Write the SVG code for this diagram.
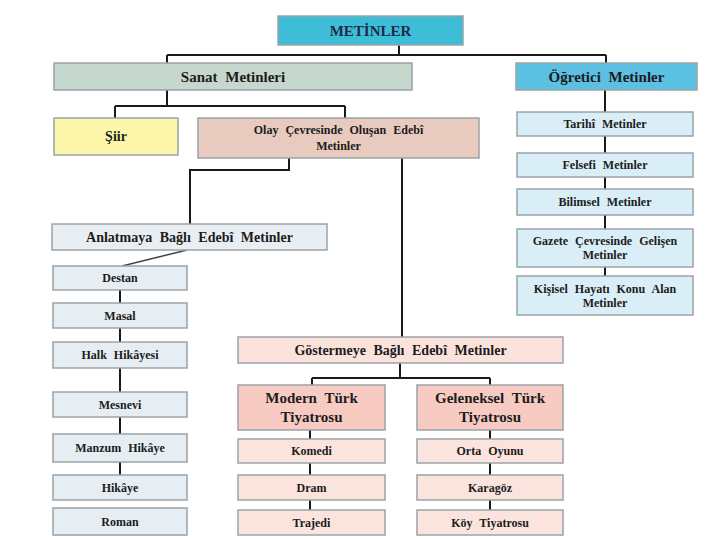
<svg xmlns="http://www.w3.org/2000/svg" width="720" height="540" viewBox="0 0 720 540">
<style>
rect{stroke:#9aa3a8;stroke-width:1.5}
text{font-family:"Liberation Serif","DejaVu Serif","Times New Roman",serif;font-weight:bold;fill:#1c1c1c;text-anchor:middle;dominant-baseline:central;word-spacing:4px}
.s{font-size:12px}
.m{font-size:14px}
.l{font-size:15px}
.c{fill:none;stroke:#1a1a1a;stroke-width:2}
.blue{fill:#e6eef3}
.pk{fill:#fbe4dd}
.lb{fill:#d9eef7}
</style>
<rect width="720" height="540" fill="#ffffff" style="stroke:none"/>
<g id="connectors">
<path class="c" d="M399 45V55M167 55H606M167 55V63M606 55V63"/>
<path class="c" d="M167 90V106M115 106H345M115 106V118M345 106V118"/>
<path class="c" d="M289 158V170H190V224M402 158V337"/>
<path d="M187 250L122 266" stroke="#444" stroke-width="1.5" fill="none"/>
<path class="c" d="M120 290V303M120 328V342M120 368V392M120 417V434M120 462V475"/>
<path class="c" d="M400 363V378M312 378H490M312 378V385M490 378V385"/>
<path class="c" d="M310 430V439M310 463V475M310 500V510M490 430V439M490 463V475M490 500V510"/>
<path class="c" d="M605 90V112M605 136V153M605 177V189M605 215V229M605 267V276"/>
</g>
<g id="metinler"><rect x="278" y="16" width="185" height="29" fill="#3ebdd7"/><text class="l" x="370.5" y="30.5" style="fill:#1e2a4a">METİNLER</text></g>
<g id="sanat"><rect x="54" y="63" width="358" height="27" fill="#c6d7cd"/><text class="l" x="233" y="76.5">Sanat Metinleri</text></g>
<g id="ogretici"><rect x="516" y="63" width="181" height="27" fill="#5cc0e2"/><text class="l" x="606.5" y="76.5">Öğretici Metinler</text></g>
<g id="siir"><rect x="54" y="118" width="124" height="37" fill="#fbf6aa"/><text class="m" x="116" y="136.5">Şiir</text></g>
<g id="olay"><rect x="198" y="118" width="281" height="40" fill="#e9cabf"/><text class="s" x="338.5" y="130">Olay Çevresinde Oluşan Edebî</text><text class="s" x="338.5" y="146">Metinler</text></g>
<g id="anlatmaya"><rect x="52" y="224" width="275" height="26" fill="#e9eef2"/><text class="m" x="189.5" y="237">Anlatmaya Bağlı Edebî Metinler</text></g>
<g id="destan"><rect class="blue" x="53" y="266" width="134" height="24"/><text class="s" x="120" y="278">Destan</text></g>
<g id="masal"><rect class="blue" x="53" y="303" width="134" height="25"/><text class="s" x="120" y="315.5">Masal</text></g>
<g id="halk"><rect class="blue" x="53" y="342" width="134" height="26"/><text class="s" x="120" y="355">Halk Hikâyesi</text></g>
<g id="mesnevi"><rect class="blue" x="53" y="392" width="134" height="25"/><text class="s" x="120" y="404.5">Mesnevi</text></g>
<g id="manzum"><rect class="blue" x="53" y="434" width="134" height="28"/><text class="s" x="120" y="448">Manzum Hikâye</text></g>
<g id="hikaye"><rect class="blue" x="53" y="475" width="134" height="25"/><text class="s" x="120" y="487.5">Hikâye</text></g>
<g id="roman"><rect class="blue" x="53" y="508" width="134" height="27"/><text class="s" x="120" y="521.5">Roman</text></g>
<g id="gosterme"><rect x="238" y="337" width="325" height="26" fill="#fbe3dc"/><text class="m" x="400.5" y="350">Göstermeye Bağlı Edebî Metinler</text></g>
<g id="modern"><rect x="238" y="385" width="147" height="45" fill="#f7cbc1"/><text class="l" x="311.5" y="398">Modern Türk</text><text class="l" x="311.5" y="417">Tiyatrosu</text></g>
<g id="geleneksel"><rect x="417" y="385" width="146" height="45" fill="#f7cbc1"/><text class="l" x="490" y="398">Geleneksel Türk</text><text class="l" x="490" y="417">Tiyatrosu</text></g>
<g id="komedi"><rect class="pk" x="238" y="439" width="147" height="24"/><text class="s" x="311.5" y="451">Komedi</text></g>
<g id="dram"><rect class="pk" x="238" y="475" width="147" height="25"/><text class="s" x="311.5" y="487.5">Dram</text></g>
<g id="trajedi"><rect class="pk" x="238" y="510" width="147" height="25"/><text class="s" x="311.5" y="522.5">Trajedi</text></g>
<g id="orta"><rect class="pk" x="417" y="439" width="146" height="24"/><text class="s" x="490" y="451">Orta Oyunu</text></g>
<g id="karagoz"><rect class="pk" x="417" y="475" width="146" height="25"/><text class="s" x="490" y="487.5">Karagöz</text></g>
<g id="koy"><rect class="pk" x="417" y="510" width="146" height="25"/><text class="s" x="490" y="522.5">Köy Tiyatrosu</text></g>
<g id="tarihi"><rect class="lb" x="517" y="112" width="176" height="24"/><text class="s" x="605" y="124">Tarihî Metinler</text></g>
<g id="felsefi"><rect class="lb" x="517" y="153" width="176" height="24"/><text class="s" x="605" y="165">Felsefi Metinler</text></g>
<g id="bilimsel"><rect class="lb" x="517" y="189" width="176" height="26"/><text class="s" x="605" y="202">Bilimsel Metinler</text></g>
<g id="gazete"><rect class="lb" x="517" y="229" width="176" height="38"/><text class="s" x="605" y="241">Gazete Çevresinde Gelişen</text><text class="s" x="605" y="255">Metinler</text></g>
<g id="kisisel"><rect class="lb" x="517" y="276" width="176" height="39"/><text class="s" x="605" y="289">Kişisel Hayatı Konu Alan</text><text class="s" x="605" y="303">Metinler</text></g>
</svg>
